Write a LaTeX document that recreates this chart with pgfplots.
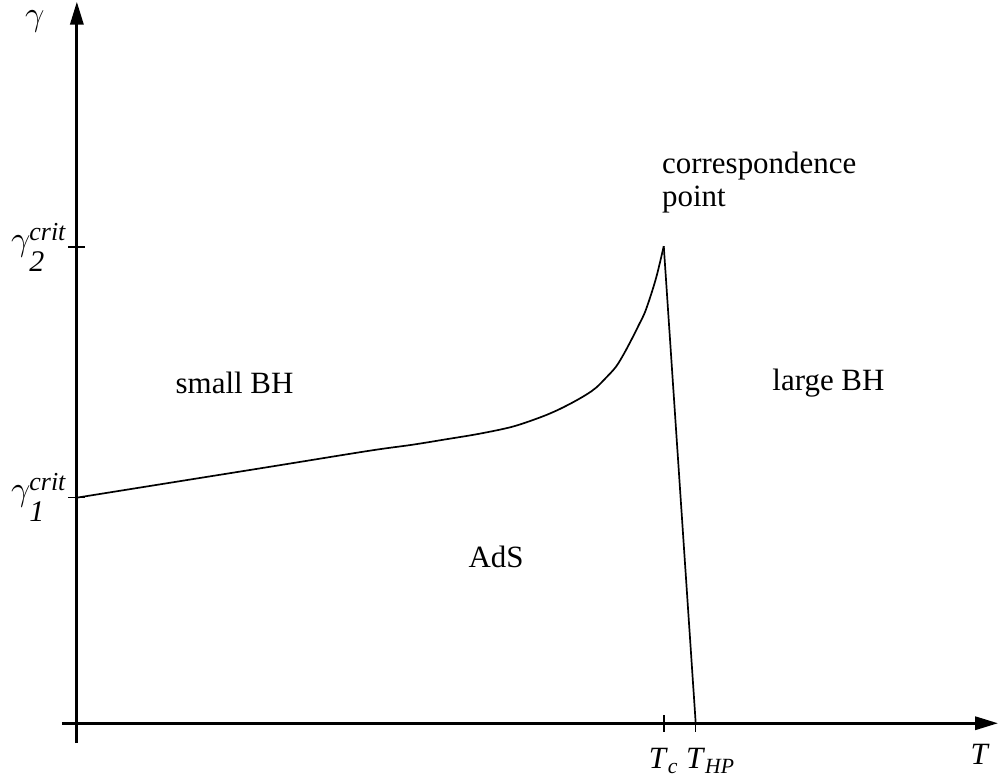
\documentclass[border=0pt]{standalone}
\usepackage{fontspec}
\setmainfont{Liberation Serif}
\usepackage{amsmath}
\usepackage{pgfplots}
\pgfplotsset{compat=1.18}
\usetikzlibrary{arrows.meta}
\newcommand{\gcrit}[1]{{\fontsize{19}{19}\selectfont$\gamma$}\kern-0.5pt\rlap{\raisebox{5pt}{\fontsize{13}{13}\selectfont\textit{crit}}}\rlap{\raisebox{-10.5pt}{\fontsize{15}{15}\selectfont\textit{#1}}}\hphantom{\fontsize{13}{13}\selectfont\textit{crit}}}
\begin{document}
\fontsize{15.5}{16.5}\selectfont
\begin{tikzpicture}
\begin{axis}[
  scale only axis, width=469pt, height=371.5pt,
  xmin=-15, xmax=923, ymin=-20, ymax=723,
  axis lines=middle,
  axis line style={line width=1.6pt, -{Triangle[length=11.5pt,width=6.5pt]}},
  xtick={588,620},
  xticklabels={\textit{T}\textsubscript{\textit{c}}, \rlap{\textit{T}\textsubscript{\textit{HP}}}\hphantom{\textit{T}}},
  ytick={226,477},
  yticklabels={\gcrit{1}, \gcrit{2}},
  tick style={black, line width=0.75pt},
  major tick length=8.5pt,
  tick align=center,
  xticklabel style={anchor=north, yshift=-3pt},
  yticklabel style={anchor=east, xshift=-1pt, inner sep=0pt},
  clip=false,
]
\addplot[smooth, tension=0.55, line width=0.85pt] coordinates {
(0,226) (100,242) (200,258) (293,273) (336,279) (370,284.5) (403,290) (436,297) (463,306) (480,313) (496,321) (510,329) (520,336) (530,346) (540,357) (548,370) (556,385) (563,399) (570,414) (580,445) (588,478)};
\addplot[line width=0.85pt] coordinates {(588,478) (620,0)};
\node at (axis cs:-42,703) {\fontsize{19}{19}\selectfont$\gamma$};
\node at (axis cs:905,-31) {\textit{T}};
\node at (axis cs:158,341) {small BH};
\node at (axis cs:753,341) {large BH};
\node at (axis cs:420,167) {AdS};
\node[anchor=north west, align=left, inner sep=0pt] at (axis cs:586,573) {correspondence\\point};
\path (axis cs:-77,-55) rectangle (axis cs:923,723);
\end{axis}
\end{tikzpicture}
\end{document}
